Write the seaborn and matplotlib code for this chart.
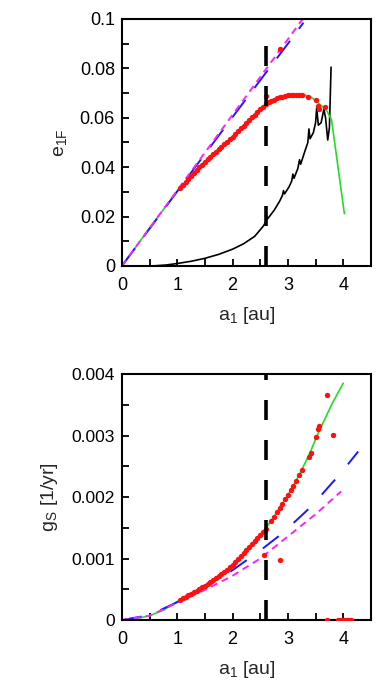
import numpy as np
import pandas as pd
import matplotlib
matplotlib.use("Agg")
import matplotlib.pyplot as plt
import seaborn as sns

# ---------------- data ----------------
A_CRIT = 2.6  # vertical dashed marker

# top panel: e_1F vs a1
top_green_a = [0, 0.5, 1.0, 1.2, 1.4, 1.6, 1.8, 2.0, 2.2, 2.4, 2.6, 2.8, 3.0, 3.1, 3.2,
               3.3, 3.4, 3.5, 3.6, 3.7, 3.79, 4.02]
top_green_e = [0, 0.0153, 0.0303, 0.0355, 0.0402, 0.0445, 0.0485, 0.0523, 0.0568, 0.0612,
               0.0655, 0.0679, 0.0692, 0.0695, 0.0695, 0.0692, 0.0686, 0.0670, 0.0650,
               0.0630, 0.0590, 0.0212]

top_magenta_a = [0, 0.5, 1.0, 1.5, 2.0, 2.5, 3.0, 3.3]
top_magenta_e = [0, 0.0153, 0.0306, 0.0459, 0.0612, 0.0765, 0.0918, 0.1010]

top_blue_a = [0, 0.5, 1.0, 1.5, 2.0, 2.5, 3.0, 3.28]
top_blue_e = [0, 0.0151, 0.0302, 0.0453, 0.0603, 0.0752, 0.0900, 0.0985]

top_black_a = [0.55, 0.8, 1.0, 1.25, 1.5, 1.75, 2.0, 2.2, 2.4, 2.55, 2.60, 2.61, 2.63, 2.75,
               2.85, 2.90, 2.92, 2.94, 3.02, 3.07, 3.09, 3.11, 3.18, 3.21, 3.23, 3.30, 3.36,
               3.38, 3.40, 3.46, 3.50, 3.52, 3.55, 3.60, 3.65, 3.68, 3.72, 3.75, 3.78]
top_black_e = [0.0, 0.0004, 0.0010, 0.0019, 0.0031, 0.0047, 0.0068, 0.0090, 0.0120, 0.0160,
               0.0178, 0.0205, 0.0190, 0.0225, 0.0262, 0.0285, 0.0305, 0.0292, 0.0320,
               0.0345, 0.0372, 0.0355, 0.0395, 0.0430, 0.0412, 0.0460, 0.0500, 0.0555,
               0.0515, 0.0540, 0.0580, 0.0640, 0.0570, 0.0580, 0.0635, 0.0600, 0.0510,
               0.0560, 0.0805]

top_red_a = [1.05, 1.10, 1.15, 1.20, 1.25, 1.30, 1.35, 1.40, 1.45, 1.50, 1.55, 1.60, 1.65,
             1.70, 1.75, 1.80, 1.85, 1.90, 1.95, 2.00, 2.05, 2.10, 2.15, 2.20, 2.25, 2.30,
             2.35, 2.40, 2.45, 2.50, 2.55, 2.60, 2.65, 2.70, 2.75, 2.80, 2.85, 2.90, 2.95,
             3.00, 3.05, 3.10, 3.15, 3.20, 3.25,
             2.60, 2.85, 3.36, 3.51, 3.55, 3.56, 3.67]
top_red_e = [0.0316, 0.0328, 0.0340, 0.0352, 0.0364, 0.0376, 0.0388, 0.0399, 0.0410, 0.0421,
             0.0432, 0.0443, 0.0453, 0.0463, 0.0473, 0.0483, 0.0493, 0.0503, 0.0513, 0.0523,
             0.0534, 0.0545, 0.0557, 0.0568, 0.0580, 0.0591, 0.0602, 0.0612, 0.0623, 0.0634,
             0.0645, 0.0655, 0.0662, 0.0668, 0.0674, 0.0679, 0.0683, 0.0686, 0.0689, 0.0691,
             0.0693, 0.0694, 0.0694, 0.0694, 0.0692,
             0.0688, 0.0880, 0.0686, 0.0670, 0.0648, 0.0636, 0.0643]

# bottom panel: g_S vs a1
bot_green_a = [0, 0.25, 0.5, 0.75, 1.0, 1.25, 1.5, 1.75, 2.0, 2.25, 2.5, 2.6, 2.8, 3.0, 3.2,
               3.4, 3.5, 3.6, 3.8, 4.0]
bot_green_g = [0, 0.00002, 0.00007, 0.00016, 0.00030, 0.00043, 0.00056, 0.00071, 0.00090,
               0.00114, 0.00139, 0.00149, 0.00175, 0.00203, 0.00235, 0.00272, 0.00294,
               0.00314, 0.00352, 0.00385]

bot_blue_a = [0, 0.5, 1.0, 1.5, 2.0, 2.5, 2.9, 3.2, 3.45, 3.72, 3.94, 4.27]
bot_blue_g = [0, 0.00008, 0.00029, 0.00052, 0.00081, 0.00113, 0.00141, 0.00166, 0.00187,
              0.00215, 0.00237, 0.00274]

bot_magenta_a = [0, 0.5, 1.0, 1.5, 2.0, 2.5, 3.0, 3.5, 3.96]
bot_magenta_g = [0, 0.00007, 0.00028, 0.00049, 0.00072, 0.00100, 0.00136, 0.00172, 0.00209]

bot_red_a = [1.05, 1.10, 1.15, 1.20, 1.25, 1.30, 1.35, 1.40, 1.45, 1.50, 1.55, 1.60, 1.65,
             1.70, 1.75, 1.80, 1.85, 1.90, 1.95, 2.00, 2.05, 2.10, 2.15, 2.20, 2.25, 2.30,
             2.35, 2.40, 2.45, 2.50, 2.55, 2.60, 2.70, 2.75, 2.80, 2.85, 2.90, 2.95, 3.00,
             3.05, 3.10, 3.15, 3.20, 3.25,
             2.57, 2.86, 3.38, 3.41, 3.50, 3.55, 3.56, 3.70, 3.82,
             3.70, 3.90, 3.94, 3.98, 4.02, 4.06, 4.10, 4.14]
bot_red_g = [0.00032, 0.00035, 0.00037, 0.00040, 0.00043, 0.00045, 0.00048, 0.00050, 0.00053,
             0.00056, 0.00059, 0.00062, 0.00065, 0.00068, 0.00071, 0.00075, 0.00078, 0.00082,
             0.00086, 0.00090, 0.00094, 0.00099, 0.00104, 0.00109, 0.00114, 0.00119, 0.00124,
             0.00129, 0.00134, 0.00139, 0.00143, 0.00148, 0.00161, 0.00168, 0.00175, 0.00182,
             0.00189, 0.00196, 0.00203, 0.00211, 0.00218, 0.00226, 0.00235, 0.00244,
             0.00106, 0.00098, 0.00265, 0.00272, 0.00297, 0.00310, 0.00316, 0.00366, 0.00301,
             0, 0, 0, 0, 0, 0, 0, 0]

x_ticks = [0, 1, 2, 3, 4]
x_ticklabels = ["0", "1", "2", "3", "4"]
top_yticks = [0, 0.02, 0.04, 0.06, 0.08, 0.1]
top_yticklabels = ["0", "0.02", "0.04", "0.06", "0.08", "0.1"]
bot_yticks = [0, 0.001, 0.002, 0.003, 0.004]
bot_yticklabels = ["0", "0.001", "0.002", "0.003", "0.004"]

# ---------------- style ----------------
sns.set_style("ticks")
plt.rcParams["font.family"] = ["Liberation Sans", "DejaVu Sans"]
plt.rcParams["mathtext.fontset"] = "custom"
plt.rcParams["mathtext.rm"] = "Liberation Sans"
plt.rcParams["mathtext.it"] = "Liberation Sans:italic"
plt.rcParams["lines.scale_dashes"] = False

fig = plt.figure(figsize=(3.82, 6.88), dpi=100)
ax1 = fig.add_axes([0.319, 0.6134, 0.652, 0.359])
ax2 = fig.add_axes([0.319, 0.0988, 0.652, 0.3576])

PX = 72 / 100.0  # points per pixel


def line(ax, a, v, color, lw, dashes=None):
    df = pd.DataFrame({"a": a, "v": v})
    sns.lineplot(data=df, x="a", y="v", ax=ax, color=color, lw=lw,
                 estimator=None, sort=False)
    ln = ax.lines[-1]
    if dashes is not None:
        ln.set_dashes(dashes)
    return ln


def dots(ax, a, v):
    df = pd.DataFrame({"a": a, "v": v})
    sns.scatterplot(data=df, x="a", y="v", ax=ax, color="#ff1010", s=15,
                    linewidth=0, zorder=5)


# top panel
line(ax1, top_black_a, top_black_e, "black", 1.2)
line(ax1, top_green_a, top_green_e, "#22dd22", 1.2)
line(ax1, top_blue_a, top_blue_e, "#1a1aff", 1.4, dashes=(22 * PX, 15 * PX))
line(ax1, top_magenta_a, top_magenta_e, "#ff22ff", 1.4, dashes=(7 * PX, 5 * PX))
dots(ax1, top_red_a, top_red_e)
ax1.axvline(A_CRIT, ymin=0, ymax=0.92, color="black", lw=2.6, dashes=(20 * PX, 20 * PX),
            zorder=6)

# bottom panel
line(ax2, bot_green_a, bot_green_g, "#22dd22", 1.2)
line(ax2, bot_blue_a, bot_blue_g, "#1a1aff", 1.4, dashes=(20 * PX, 20 * PX))
line(ax2, bot_magenta_a, bot_magenta_g, "#ff22ff", 1.4, dashes=(7 * PX, 5 * PX))
dots(ax2, bot_red_a, bot_red_g)
ax2.axvline(A_CRIT, ymin=0, ymax=1.0, color="black", lw=2.6, dashes=(20 * PX, 20 * PX),
            zorder=6)

for ax, yt, ytl, ylim, ylab, yfs in [
        (ax1, top_yticks, top_yticklabels, (0, 0.1), r"$\mathregular{e_{1F}}$", 13),
        (ax2, bot_yticks, bot_yticklabels, (0, 0.004), r"$\mathregular{g_S}$ [1/yr]", 12.5)]:
    ax.set_xlim(0, 4.5)
    ax.set_ylim(*ylim)
    ax.set_xticks(x_ticks)
    ax.set_xticklabels(x_ticklabels)
    ax.set_yticks(yt)
    ax.set_yticklabels(ytl)
    ax.set_xticks(np.arange(0.5, 4.5, 1.0), minor=True)
    ax.set_yticks([(yt[i] + yt[i + 1]) / 2 for i in range(len(yt) - 1)], minor=True)
    ax.tick_params(which="both", direction="in", length=5, width=1.3, colors="black")
    ax.tick_params(axis="x", which="major", labelsize=13, pad=8)
    ax.tick_params(axis="y", which="major", labelsize=yfs, pad=5)
    for s in ax.spines.values():
        s.set_linewidth(1.5)
        s.set_color("black")
    ax.set_xlabel(r"$\mathregular{a_1}$ [au]", fontsize=14, labelpad=8)
    ax.set_ylabel(ylab, fontsize=14, labelpad=8)

fig.savefig("out.png", dpi=100)
